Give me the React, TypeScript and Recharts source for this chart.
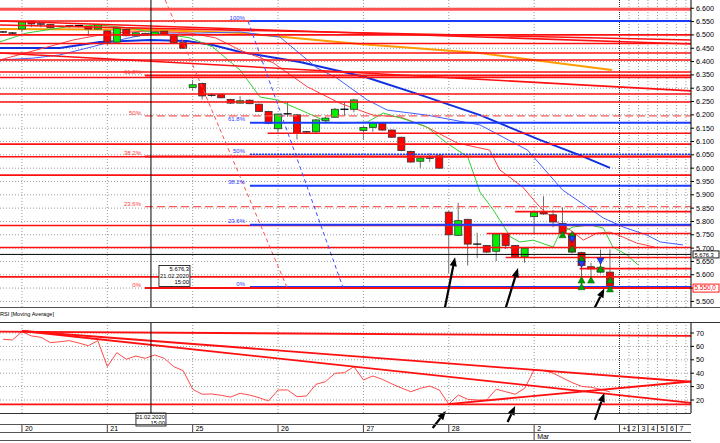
import React from "react";
import {
  ComposedChart,
  Bar,
  Line,
  XAxis,
  YAxis,
  ReferenceLine,
  ReferenceDot,
} from "recharts";

const FONT = "'Liberation Sans', Arial, sans-serif";

// ---------------- data ----------------
const candleOpen = [
  6511, 6507, 6522, 6552, 6541, 6539, 6532, 6529, 6530, 6531, 6522, 6515, 6473, 6521, 6496, 6506, 6502, 6514, 6499, 6471,
  6303, 6318, 6274, 6276, 6258, 6244, 6255, 6240, 6213,
  6148, 6203, 6200, 6135, 6136, 6178, 6191, 6220, 6221,
  6141, 6153, 6170, 6143, 6116, 6063, 6026, 6037, 6046,
  5835, 5748, 5808, 5714, 5710, 5688, 5753, 5710, 5667,
  5818, 5835, 5825, 5793, 5755, 5683, 5630, 5610, 5610,
];
const candleHigh = [
  6515, 6511, 6552, 6553, 6542, 6540, 6533, 6536, 6537, 6533, 6540, 6518, 6528, 6524, 6511, 6508, 6513, 6516, 6502, 6473,
  6331, 6321, 6281, 6278, 6260, 6270, 6258, 6242, 6215,
  6205, 6248, 6203, 6138, 6184, 6192, 6226, 6248, 6260,
  6161, 6174, 6172, 6145, 6118, 6065, 6041, 6056, 6048,
  5840, 5870, 5810, 5758, 5712, 5756, 5756, 5712, 5702,
  5838, 5895, 5843, 5853, 5758, 5686, 5645, 5695, 5695,
];
const candleLow = [
  6507, 6501, 6510, 6530, 6529, 6525, 6529, 6527, 6528, 6496, 6520, 6462, 6470, 6494, 6494, 6497, 6500, 6500, 6468, 6448,
  6291, 6258, 6268, 6262, 6241, 6243, 6240, 6211, 6165,
  6133, 6193, 6108, 6133, 6134, 6168, 6189, 6196, 6210,
  6106, 6137, 6140, 6114, 6063, 6020, 6000, 6023, 5998,
  5607, 5745, 5635, 5663, 5682, 5652, 5697, 5665, 5645,
  5750, 5825, 5778, 5750, 5680, 5547, 5573, 5605, 5550,
];
const candleClose = [
  6510, 6507, 6549, 6541, 6541, 6527, 6530, 6534, 6535, 6522, 6538, 6473, 6525, 6497, 6508, 6499, 6511, 6503, 6471, 6450,
  6313, 6271, 6273, 6264, 6244, 6253, 6242, 6213, 6168,
  6203, 6204, 6131, 6136, 6181, 6188, 6221, 6221, 6256,
  6153, 6170, 6143, 6116, 6066, 6023, 6038, 6038, 6000,
  5750, 5803, 5715, 5715, 5685, 5753, 5710, 5667, 5700,
  5835, 5828, 5798, 5758, 5685, 5635, 5622, 5628, 5553,
];

const rsiValues = [
  65.3, 64.8, 71, 67.8, 66.8, 62.8, 63.5, 64.3, 62.5, 60.5, 64.3, 44.9, 55.3, 50.4, 52.8, 51.1, 53.6, 51.1, 44.9, 41.9,
  28, 24.3, 24.5, 23.5, 22.2, 25, 23.7, 21.7, 19.3,
  27.5, 27.5, 22.5, 23, 31.7, 33.7, 39.9, 40.4, 44.9,
  35, 37.9, 35.4, 32, 29, 26.2, 28.7, 30.4, 27.5,
  17, 23.7, 20.5, 20, 20, 28, 26.2, 24.3, 28.7,
  42.4, 42, 40, 36.5, 33, 30.2, 29.5, 28, 26,
];

const priceTicks = [5500, 5550, 5600, 5650, 5700, 5750, 5800, 5850, 5900, 5950, 6000, 6050, 6100, 6150, 6200, 6250, 6300, 6350, 6400, 6450, 6500, 6550, 6600];
const rsiTicks = [20, 30, 40, 50, 60, 70];

const dayTickIdx = [2, 11, 20, 29, 38, 47, 56];
const dayTickLabels = ["20", "21", "25", "26", "27", "28", "2"];
const futureTickIdx = [65, 66, 67, 68, 69, 70, 71];
const futureTickLabels = ["+1", "2", "3", "4", "5", "6", "7"];
const futureGridIdx = [66, 67, 68, 69, 70, 71, 72];
const monthTickIdx = 56;
const monthLabel = "Mar";

// moving averages: [bar index, price]
const orangeMA = [[-0.32, 6522], [15.5, 6519], [25, 6507], [37.6, 6466], [50.3, 6432], [64.2, 6368]];
const slowBlueMA = [[-0.32, 6451], [6, 6451], [10.2, 6473], [15.5, 6481], [19.4, 6477], [22.1, 6462], [25, 6436], [31.3, 6398], [38.2, 6342], [44, 6275], [50.3, 6199], [56.6, 6106], [60.8, 6049], [64, 6001]];
const jawLine = [[-0.32, 6406], [3.2, 6413], [6, 6425], [8.9, 6451], [11.3, 6473], [13.7, 6492], [15.8, 6507], [20.8, 6507], [25, 6511], [29.2, 6492], [33.1, 6376], [35.2, 6338], [38.4, 6256], [40.5, 6218], [44.7, 6199], [50.3, 6162], [55.3, 6068], [59, 5918], [63.3, 5813], [65.4, 5779], [67.9, 5749], [69.3, 5723], [71.7, 5712]];
const teethLine = [[-0.32, 6406], [7.4, 6481], [11.3, 6507], [15.5, 6515], [19.7, 6507], [22.4, 6489], [25, 6443], [28.5, 6395], [32.1, 6305], [35.5, 6244], [39, 6199], [41.9, 6192], [44.7, 6154], [47.9, 6094], [51.3, 6068], [52.4, 5993], [54.8, 5929], [56.6, 5854], [58.4, 5798], [59.8, 5768], [61.2, 5730], [62.6, 5756], [64, 5760], [65.4, 5741], [66.8, 5719], [68.7, 5704]];
const lipsLine = [[-0.32, 6474], [2.5, 6507], [6.7, 6530], [10.2, 6537], [13.4, 6526], [15.5, 6511], [19.7, 6489], [22.1, 6455], [25, 6368], [27.1, 6267], [28.9, 6256], [32.1, 6207], [34.2, 6173], [35.5, 6169], [38.4, 6173], [40.1, 6207], [42.6, 6181], [44.7, 6154], [46.8, 6094], [49, 6042], [50.3, 5910], [51.7, 5843], [53.5, 5742], [54.5, 5723], [55.9, 5730], [58, 5704], [58.7, 5756], [60.1, 5779], [61.9, 5787], [63.3, 5775], [64.3, 5704], [65.8, 5674], [67, 5636]];

const redLevels = [6552, 6500, 6468, 6432, 6406, 6361, 6340, 6278, 6248, 6090, 6043, 5974, 5785, 5702, 5592];
const topBandLevel = 6596;
const redPartialLevels = [[27.9, 6131], [54, 5837], [51, 5755], [53, 5665], [60.8, 5623]];
const redSlopedLines = [
  [[-0.32, 6552], [72.54, 6466]],
  [[-0.32, 6537], [72.54, 6481]],
  [[-0.32, 6432], [72.54, 6290]],
];
const redFibLevels: [string, number, boolean][] = [["0%", 5550, false], ["23.6%", 5856, true], ["38.2%", 6044, false], ["50%", 6196, true], ["61.8%", 6348, false]];
const redFibStart = 14.97;
const blueFibLevels: [string, number][] = [["0%", 5554], ["23.6%", 5788], ["38.2%", 5934], ["50%", 6052], ["61.8%", 6170], ["100%", 6552]];
const blueFibStart = 26.04;
const redFanLine = [[17.1, 6631], [29.95, 5552]];
const blueFanLine = [[25.83, 6552], [35.85, 5552]];

const crossIdx = 15.6;
const crossPrice = 5676.3;
const crossDate = "21.02.2020";
const crossTime = "15:00";
const lastPrice = 5550.0;

const greenSignals = [[59, 5750], [60, 5750], [60, 5698], [61, 5660], [61, 5580], [61, 5555], [62, 5580], [63, 5622], [64, 5580], [64, 5547]];
const blueSignals = [[60, 5733], [61, 5640], [63, 5652]];

const priceArrows = [
  [[46.5, 5460], [47.66, 5666]],
  [[52.9, 5464], [54.3, 5625]],
  [[62.1, 5456], [63.4, 5548]],
];
const rsiTrendLines = [
  [[-0.32, 71], [72.54, 67.8]],
  [[2, 71.5], [72.54, 33.6]],
  [[2, 71.5], [72.54, 17.9]],
  [[-0.32, 16.8], [72.54, 16.8]],
  [[46.9, 17], [72.54, 33.8]],
];
const rsiArrows = [
  [[45.3, -0.9], [46.7, 11.8]],
  [[53.2, 3.6], [54, 15.5]],
  [[62.4, 5.1], [63.4, 25.2]],
];

// ---------------- helpers ----------------
const X_DOMAIN: [number, number] = [-0.316, 72.54];
const PRICE_DOMAIN: [number, number] = [5479, 6631];
const RSI_DOMAIN: [number, number] = [10.3, 77.46];

const candles = candleOpen.map((o, i) => ({ i, o, h: candleHigh[i], l: candleLow[i], c: candleClose[i] }));
const rsiData = rsiValues.map((v, i) => ({ i, v }));
const toPts = (arr: number[][]) => arr.map(([i, v]) => ({ i, v }));

const thousands = (n: number) => Math.floor(n).toString().replace(/\B(?=(\d{3})+(?!\d))/g, ".");
const fmtPrice = (v: number) => (v === lastPrice ? "" : thousands(v));
const fmtPrice1 = (v: number) => thousands(v) + "," + Math.round((v - Math.floor(v)) * 10);

const GRID = "#9a9a9a";
const RED = "#ff1010";

const bad = (...v: any[]) => v.some((n) => n == null || isNaN(n));

// candle body drawn between the library-scaled open and close points
const bodyShape = (fill: string) => (p: any) => {
  const { x1, y1, x2, y2 } = p;
  if (bad(x1, y1, x2, y2)) return null;
  const top = Math.min(y1, y2);
  const hgt = Math.abs(y2 - y1);
  if (hgt < 1.6) {
    return <line x1={x1 - 4} x2={x1 + 4} y1={top} y2={top} stroke="#000" strokeWidth={1.3} />;
  }
  return <rect x={x1 - 3.5} y={top} width={7} height={hgt} fill={fill} stroke="#333" strokeWidth={0.8} />;
};

const TriUp = (p: any) => {
  const { cx, cy } = p;
  if (bad(cx, cy)) return null;
  return <polygon points={`${cx},${cy - 3.5} ${cx - 3.5},${cy + 3} ${cx + 3.5},${cy + 3}`} fill="#00a000" stroke="#005500" strokeWidth={0.5} />;
};
const TriDown = (p: any) => {
  const { cx, cy } = p;
  if (bad(cx, cy)) return null;
  return <polygon points={`${cx},${cy + 3.5} ${cx - 3.5},${cy - 3} ${cx + 3.5},${cy - 3}`} fill="#2040ff" stroke="#001080" strokeWidth={0.5} />;
};

const ArrowShape = (props: any) => {
  const { x1, y1, x2, y2 } = props;
  if (bad(x1, y1, x2, y2)) return null;
  const ang = Math.atan2(y2 - y1, x2 - x1);
  const L = 9;
  const Wd = 3.6;
  const bx = x2 - L * Math.cos(ang);
  const by = y2 - L * Math.sin(ang);
  const px = -Math.sin(ang) * Wd;
  const py = Math.cos(ang) * Wd;
  return (
    <g>
      <line x1={x1} y1={y1} x2={bx} y2={by} stroke="#000" strokeWidth={2.2} />
      <polygon points={`${x2},${y2} ${bx + px},${by + py} ${bx - px},${by - py}`} fill="#000" />
    </g>
  );
};

const textLabel = (text: string, color: string, dx: number, dy: number, anchor: string, size: number) => (p: any) => {
  const { cx, cy } = p;
  if (bad(cx, cy)) return null;
  return (
    <text x={cx + dx} y={cy + dy} textAnchor={anchor} fontSize={size} fill={color} fontFamily={FONT}>
      {text}
    </text>
  );
};

const CrossBox = (p: any) => {
  const { cx, cy } = p;
  if (bad(cx, cy)) return null;
  return (
    <g fontFamily={FONT} fontSize={5.8} fill="#000">
      <rect x={cx + 8} y={cy + 11} width={31} height={21} fill="#fff" stroke="#000" strokeWidth={0.8} />
      <text x={cx + 38} y={cy + 16.5} textAnchor="end">{fmtPrice1(crossPrice)}</text>
      <text x={cx + 38} y={cy + 23.5} textAnchor="end">{crossDate}</text>
      <text x={cx + 38} y={cy + 30} textAnchor="end">{crossTime}</text>
    </g>
  );
};

const AxisPriceBox = (color: string, text: string, h: number, size: number) => (p: any) => {
  const { cx, cy } = p;
  if (bad(cx, cy)) return null;
  return (
    <g fontFamily={FONT} fontSize={size}>
      <rect x={cx + 2} y={cy - h / 2} width={26} height={h} fill="#fff" stroke={color} strokeWidth={0.9} />
      <text x={cx + 3.5} y={cy + size * 0.36} fill={color}>{text}</text>
    </g>
  );
};

const DateBox = (p: any) => {
  const { cx, cy } = p;
  if (bad(cx, cy)) return null;
  return (
    <g fontFamily={FONT} fontSize={5.8} fill="#000">
      <rect x={cx - 15} y={cy} width={30} height={13} fill="#fff" stroke="#000" strokeWidth={0.8} />
      <text x={cx + 14} y={cy + 5.6} textAnchor="end">{crossDate}</text>
      <text x={cx + 14} y={cy + 12} textAnchor="end">{crossTime}</text>
    </g>
  );
};

const allTickIdx = [...dayTickIdx, ...futureTickIdx];
const allTickLabels = [...dayTickLabels, ...futureTickLabels];

const DateTick = (props: any) => {
  const { x, y, payload } = props;
  if (bad(x, y) || !payload) return null;
  const k = allTickIdx.indexOf(payload.value);
  const label = k >= 0 ? allTickLabels[k] : "";
  const isMonth = payload.value === monthTickIdx;
  return (
    <g fontFamily={FONT} fontSize={7}>
      <line x1={x} x2={x} y1={y + 11} y2={isMonth ? y + 27 : y + 19} stroke="#404040" strokeWidth={1} />
      <text x={x + 3} y={y + 17.8} fill="#000">{label}</text>
      {isMonth && <text x={x + 3} y={y + 26} fill="#000">{monthLabel}</text>}
    </g>
  );
};

const gridV = (key: string, x: number, dark: boolean) => (
  <ReferenceLine key={key} x={x} stroke={dark ? "#333" : GRID} strokeDasharray={dark ? "1 1" : "1 2"} strokeWidth={1} />
);

const lineCommon = { type: "linear" as const, dot: false, activeDot: false, isAnimationActive: false, dataKey: "v" };

export default function App() {
  return (
    <div style={{ position: "relative", width: 720, height: 443, background: "#fff", overflow: "hidden", fontFamily: FONT }}>
      <style>{"body{margin:0;}"}</style>

      {/* ---------- price panel ---------- */}
      <div style={{ position: "absolute", left: 0, top: 0 }}>
        <ComposedChart width={720} height={307} data={candles} margin={{ top: 0, right: 0, bottom: 0, left: 0 }}>
          <XAxis type="number" dataKey="i" domain={X_DOMAIN} allowDataOverflow hide />
          <YAxis
            orientation="right"
            width={29}
            domain={PRICE_DOMAIN}
            allowDataOverflow
            ticks={priceTicks}
            interval={0}
            tickFormatter={fmtPrice}
            tick={{ fontSize: 7.2, fill: "#000", fontFamily: FONT }}
            tickSize={3}
            tickMargin={2}
            axisLine={{ stroke: "#000" }}
            tickLine={{ stroke: "#000" }}
          />
          {priceTicks.map((p) => (
            <ReferenceLine key={"hg" + p} y={p} stroke={GRID} strokeDasharray="1 2" />
          ))}
          {dayTickIdx.map((x) => gridV("vg" + x, x, false))}
          {gridV("vf65", futureTickIdx[0], true)}
          {futureGridIdx.map((x) => gridV("vf" + x, x, false))}

          {/* candle wicks: low..high range bars */}
          <Bar dataKey={(d: any) => [d.l, d.h]} barSize={1} fill="#555" isAnimationActive={false} />

          <Line {...lineCommon} data={toPts(orangeMA)} stroke="#ff9a00" strokeWidth={2} />
          <Line {...lineCommon} data={toPts(slowBlueMA)} stroke="#1030e0" strokeWidth={2} />
          <Line {...lineCommon} data={toPts(jawLine)} stroke="#4060ff" strokeWidth={1} />
          <Line {...lineCommon} data={toPts(teethLine)} stroke="#ff4040" strokeWidth={1} />
          <Line {...lineCommon} data={toPts(lipsLine)} stroke="#30d030" strokeWidth={1} />

          {/* candle bodies: open..close */}
          {candles.map((d) => (
            <ReferenceLine
              key={"body" + d.i}
              segment={[{ x: d.i, y: d.o }, { x: d.i, y: d.c }]}
              shape={bodyShape(d.c > d.o ? "#00ee00" : "#ff0000")}
              ifOverflow="visible"
            />
          ))}

          <ReferenceLine y={topBandLevel} stroke="#ff5050" strokeWidth={3} />
          {redLevels.map((p) => (
            <ReferenceLine key={"rl" + p} y={p} stroke={RED} strokeWidth={1.6} />
          ))}
          {redPartialLevels.map(([x, p]) => (
            <ReferenceLine key={"rp" + p} segment={[{ x, y: p }, { x: X_DOMAIN[1], y: p }]} stroke={RED} strokeWidth={1.6} ifOverflow="hidden" />
          ))}
          {redSlopedLines.map((s, k) => (
            <ReferenceLine key={"rs" + k} segment={[{ x: s[0][0], y: s[0][1] }, { x: s[1][0], y: s[1][1] }]} stroke={RED} strokeWidth={1.6} ifOverflow="hidden" />
          ))}

          {blueFibLevels.map(([lab, p]) => (
            <ReferenceLine
              key={"bf" + lab}
              segment={[{ x: blueFibStart, y: p }, { x: X_DOMAIN[1], y: p }]}
              stroke="#1a3cff"
              strokeWidth={lab === "50%" ? 1.6 : 2}
              strokeDasharray={lab === "50%" ? "2 1" : undefined}
              ifOverflow="hidden"
            />
          ))}
          {redFibLevels.map(([lab, p, dashed]) => (
            <ReferenceLine
              key={"rf" + lab}
              segment={[{ x: redFibStart, y: p }, { x: X_DOMAIN[1], y: p }]}
              stroke={dashed ? "#ff5a5a" : RED}
              strokeWidth={dashed ? 1.3 : 2}
              strokeDasharray={dashed ? "8 4" : undefined}
              ifOverflow="hidden"
            />
          ))}
          <ReferenceLine segment={[{ x: redFanLine[0][0], y: redFanLine[0][1] }, { x: redFanLine[1][0], y: redFanLine[1][1] }]} stroke="#ff5050" strokeDasharray="4 3" strokeWidth={1} ifOverflow="hidden" />
          <ReferenceLine segment={[{ x: blueFanLine[0][0], y: blueFanLine[0][1] }, { x: blueFanLine[1][0], y: blueFanLine[1][1] }]} stroke="#4050ff" strokeDasharray="4 3" strokeWidth={1} ifOverflow="hidden" />

          {redFibLevels.map(([lab, p]) => (
            <ReferenceDot key={"rfl" + lab} x={redFibStart} y={p} r={0} ifOverflow="visible" shape={textLabel(lab, "#ff4040", -4, -1, "end", 6)} />
          ))}
          {blueFibLevels.map(([lab, p]) => (
            <ReferenceDot key={"bfl" + lab} x={blueFibStart} y={p} r={0} ifOverflow="visible" shape={textLabel(lab, "#3040ff", -5, -1.5, "end", 6)} />
          ))}

          {greenSignals.map(([i, p], k) => (
            <ReferenceDot key={"gs" + k} x={i} y={p} r={3} ifOverflow="visible" shape={TriUp} />
          ))}
          {blueSignals.map(([i, p], k) => (
            <ReferenceDot key={"bs" + k} x={i} y={p} r={3} ifOverflow="visible" shape={TriDown} />
          ))}

          <ReferenceLine x={crossIdx} stroke="#000" strokeWidth={1} />
          <ReferenceLine y={crossPrice} stroke="#000" strokeWidth={1} />

          {priceArrows.map((a, k) => (
            <ReferenceLine key={"pa" + k} segment={[{ x: a[0][0], y: a[0][1] }, { x: a[1][0], y: a[1][1] }]} shape={ArrowShape} ifOverflow="visible" />
          ))}

          <ReferenceDot x={crossIdx} y={crossPrice} r={0} ifOverflow="visible" shape={CrossBox} />
          <ReferenceDot x={X_DOMAIN[1]} y={crossPrice} r={0} ifOverflow="visible" shape={AxisPriceBox("#000", fmtPrice1(crossPrice), 7, 5.8)} />
          <ReferenceDot x={X_DOMAIN[1]} y={lastPrice} r={0} ifOverflow="visible" shape={AxisPriceBox("#ff0000", fmtPrice1(lastPrice), 8, 6.4)} />
        </ComposedChart>
      </div>

      {/* ---------- RSI panel ---------- */}
      <div style={{ position: "absolute", left: 0, top: 307 }}>
        <ComposedChart width={720} height={136} data={rsiData} margin={{ top: 16, right: 0, bottom: 0, left: 0 }}>
          <XAxis
            type="number"
            dataKey="i"
            domain={X_DOMAIN}
            allowDataOverflow
            ticks={allTickIdx}
            interval={0}
            tick={(p: any) => <DateTick {...p} />}
            tickSize={0}
            tickMargin={0}
            axisLine={false}
            tickLine={false}
            height={30}
          />
          <YAxis
            orientation="right"
            width={29}
            domain={RSI_DOMAIN}
            allowDataOverflow
            ticks={rsiTicks}
            interval={0}
            tick={{ fontSize: 7.2, fill: "#000", fontFamily: FONT }}
            tickSize={3}
            tickMargin={2}
            axisLine={{ stroke: "#000" }}
            tickLine={{ stroke: "#000" }}
          />
          {rsiTicks.map((v) => (
            <ReferenceLine key={"rh" + v} y={v} stroke={GRID} strokeDasharray="1 2" />
          ))}
          {dayTickIdx.map((x) => gridV("rv" + x, x, false))}
          {gridV("rvf65", futureTickIdx[0], true)}
          {futureGridIdx.map((x) => gridV("rvf" + x, x, false))}

          <Line {...lineCommon} stroke="#ff4a4a" strokeWidth={1} />
          {rsiTrendLines.map((s, k) => (
            <ReferenceLine key={"rt" + k} segment={[{ x: s[0][0], y: s[0][1] }, { x: s[1][0], y: s[1][1] }]} stroke={RED} strokeWidth={1.8} ifOverflow="hidden" />
          ))}
          <ReferenceLine x={crossIdx} stroke="#000" strokeWidth={1} />
          {rsiArrows.map((a, k) => (
            <ReferenceLine key={"ra" + k} segment={[{ x: a[0][0], y: a[0][1] }, { x: a[1][0], y: a[1][1] }]} shape={ArrowShape} ifOverflow="visible" />
          ))}
          <ReferenceDot x={crossIdx} y={RSI_DOMAIN[0]} r={0} ifOverflow="visible" shape={DateBox} />
        </ComposedChart>
      </div>

      {/* frame lines */}
      <div style={{ position: "absolute", left: 0, top: 307, width: 720, height: 1, background: "#555" }} />
      <div style={{ position: "absolute", left: 0, top: 322, width: 720, height: 1, background: "#333" }} />
      <div style={{ position: "absolute", left: 0, top: 413, width: 691, height: 1, background: "#333" }} />
      <div style={{ position: "absolute", left: 0, top: 424, width: 691, height: 1, background: "#555" }} />
      <div style={{ position: "absolute", left: 0, top: 432, width: 691, height: 1, background: "#555" }} />
      <div style={{ position: "absolute", left: 0, top: 440, width: 691, height: 1, background: "#555" }} />
      <div style={{ position: "absolute", left: 0, top: 309, fontSize: 5.6, lineHeight: "10px", color: "#000", whiteSpace: "nowrap" }}>
        RSI [Moving Average]
      </div>
    </div>
  );
}
